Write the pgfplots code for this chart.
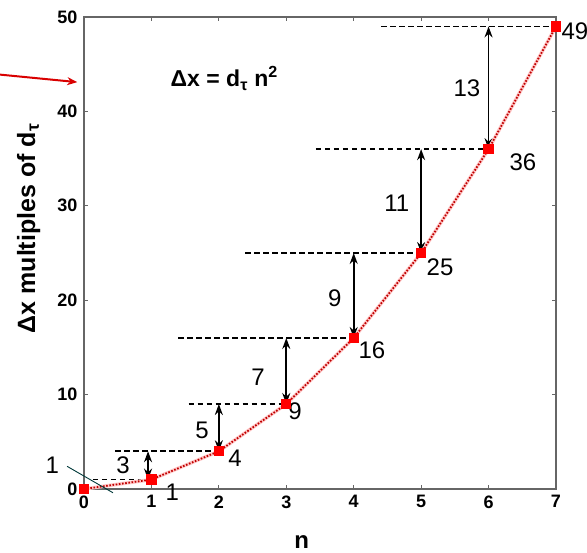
\documentclass[border=0pt]{standalone}
\usepackage{fontspec}
\setmainfont{Liberation Sans}
\usepackage{pgfplots}
\pgfplotsset{compat=1.18}
\usetikzlibrary{arrows.meta}
\tikzset{
 dashln/.style={black, line width=1.8pt, dash pattern=on 5.5pt off 3.5pt},
 darr/.style={black, line width=1.6pt, {Stealth[length=11pt,width=8pt]}-{Stealth[length=11pt,width=8pt]}},
 lbl/.style={font=\fontsize{24}{24}\selectfont},
}
\newcommand{\tickfont}{\fontsize{18}{20}\selectfont\bfseries}
\begin{document}
\begin{tikzpicture}
\begin{axis}[
 at={(0,0)}, anchor=south west,
 width=472pt, height=472pt, scale only axis,
 xmin=0, xmax=7, ymin=0, ymax=50,
 xtick={0,...,7}, ytick={0,10,...,50},
 tick align=inside, major tick length=4pt,
 axis line style={draw=black!60, line width=1.4pt},
 tick style={black!60, line width=0.9pt},
 /pgf/number format/assume math mode=true,
 tick label style={font=\tickfont},
 xticklabel={\tickfont\pgfmathprintnumber{\tick}},
 yticklabel={\tickfont\pgfmathprintnumber{\tick}},
 xticklabel style={yshift=-3pt},
 yticklabel style={xshift=-3pt},
 clip=false,
]
% dashed level lines
\addplot[dashln, forget plot] coordinates {(0.13,1)(1,1)};
\addplot[dashln, forget plot] coordinates {(0.46,4)(2,4)};
\addplot[dashln, forget plot] coordinates {(1.55,9)(3,9)};
\addplot[dashln, forget plot] coordinates {(1.40,16)(4,16)};
\addplot[dashln, forget plot] coordinates {(2.39,25)(5,25)};
\addplot[dashln, forget plot] coordinates {(3.44,36)(6,36)};
\addplot[dashln, forget plot] coordinates {(4.41,49)(7,49)};
% double arrows
\addplot[darr, forget plot] coordinates {(0.95,1)(0.95,4)};
\addplot[darr, forget plot] coordinates {(2,4)(2,9)};
\addplot[darr, forget plot] coordinates {(3,9)(3,16)};
\addplot[darr, forget plot] coordinates {(4,16)(4,25)};
\addplot[darr, forget plot] coordinates {(5,25)(5,36)};
\addplot[darr, forget plot] coordinates {(6,36)(6,49)};
% data: pink halo + dotted dark red line + square marks
\addplot[red!22, line width=3.5pt, forget plot] coordinates {(0,0)(1,1)(2,4)(3,9)(4,16)(5,25)(6,36)(7,49)};
\addplot[red!75!black, line width=1.8pt, dash pattern=on 1.6pt off 1.6pt, mark=square*, mark options={solid, fill=red, draw=red}, mark size=4.2pt] coordinates {(0,0)(1,1)(2,4)(3,9)(4,16)(5,25)(6,36)(7,49)};
% thin slash
\addplot[black!55!teal, line width=0.9pt, forget plot] coordinates {(-0.25,2.4)(0.43,-0.4)};
% red pointer arrow
\addplot[red!85!black, line width=2pt, -{Stealth[length=10pt,width=8pt]}, forget plot] coordinates {(-1.25,43.9)(-0.1,43.1)};
% step labels
\node[lbl] at (axis cs:-0.47,2.5) {1};
\node[lbl] at (axis cs:0.58,2.5) {3};
\node[lbl] at (axis cs:1.75,6.25) {5};
\node[lbl] at (axis cs:2.58,11.8) {7};
\node[lbl] at (axis cs:3.72,20.2) {9};
\node[lbl] at (axis cs:4.64,30.3) {11};
\node[lbl] at (axis cs:5.68,42.5) {13};
% value labels
\node[lbl] at (axis cs:1.31,-0.3) {1};
\node[lbl] at (axis cs:2.24,3.3) {4};
\node[lbl] at (axis cs:3.13,8.2) {9};
\node[lbl] at (axis cs:4.27,14.7) {16};
\node[lbl] at (axis cs:5.28,23.5) {25};
\node[lbl] at (axis cs:6.51,34.6) {36};
\node[lbl, anchor=west, inner sep=0pt] at (axis cs:7.08,48.5) {49};
% formula
\node[font=\fontsize{23}{23}\selectfont\bfseries] at (axis cs:2.08,43.5) {Δx = d\textsubscript{τ} n\textsuperscript{2}};
% axis labels
\node[font=\fontsize{24}{24}\selectfont\bfseries] at (axis cs:3.23,-5.6) {n};
\node[font=\fontsize{25}{25}\selectfont\bfseries, rotate=90] at (axis cs:-0.82,27.6) {Δx multiples of d\textsubscript{τ}};
\end{axis}
\pgfresetboundingbox
\useasboundingbox (-84pt,-64pt) rectangle (503pt,489pt);
\end{tikzpicture}
\end{document}
